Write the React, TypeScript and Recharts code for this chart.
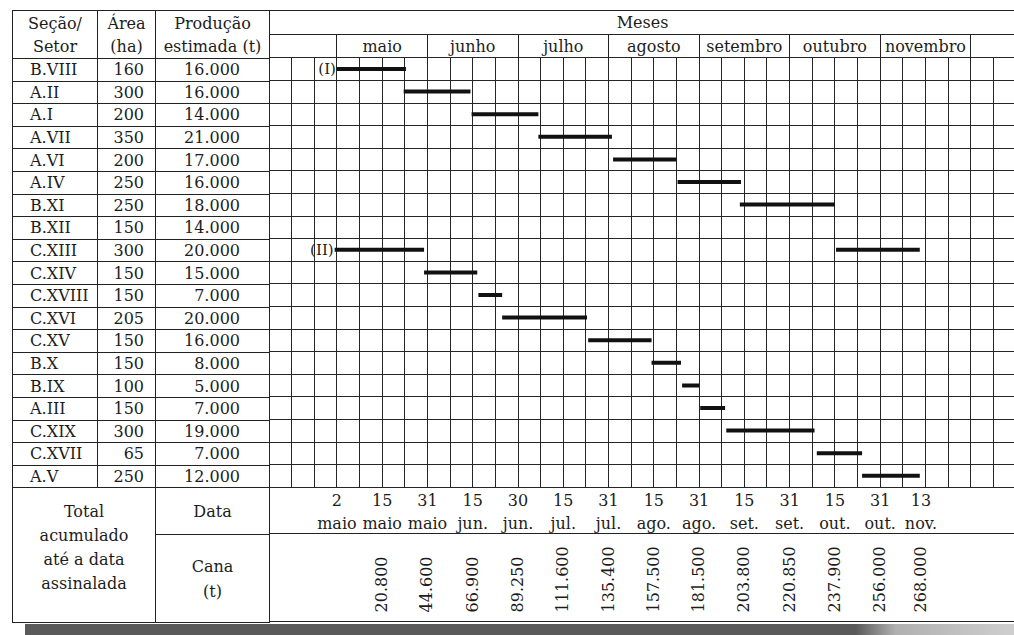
import { Bar, BarChart, CartesianGrid, LabelList, XAxis, YAxis } from "recharts";

// left table
const sectors = ["B.VIII", "A.II", "A.I", "A.VII", "A.VI", "A.IV", "B.XI", "B.XII", "C.XIII", "C.XIV", "C.XVIII", "C.XVI", "C.XV", "B.X", "B.IX", "A.III", "C.XIX", "C.XVII", "A.V"];
const areas = [160, 300, 200, 350, 200, 250, 250, 150, 300, 150, 150, 205, 150, 150, 100, 150, 300, 65, 250];
const production = [16000, 16000, 14000, 21000, 17000, 16000, 18000, 14000, 20000, 15000, 7000, 20000, 16000, 8000, 5000, 7000, 19000, 7000, 12000];

// harvest periods, x in quarter-month columns (0 = 3 columns before maio)
const segRow = [0, 1, 2, 3, 4, 5, 6, 8, 8, 9, 10, 11, 12, 13, 14, 15, 16, 17, 18];
const segStart = [3.0, 5.95, 8.95, 11.9, 15.2, 18.05, 20.8, 2.9, 25.05, 6.85, 9.25, 10.3, 14.1, 16.9, 18.25, 19.05, 20.2, 24.2, 26.2];
const segEnd = [6.05, 8.9, 11.9, 15.15, 18.0, 20.85, 25.0, 6.85, 28.75, 9.2, 10.3, 14.05, 16.9, 18.2, 19.0, 20.15, 24.1, 26.2, 28.75];
const segTag = ["(I)", null, null, null, null, null, null, "(II)", null, null, null, null, null, null, null, null, null, null, null];

// header months
const monthStarts = [3, 7, 11, 15, 19, 23, 27, 31];
const monthCenters = [5, 9, 13, 17, 21, 25, 29];
const monthNames = ["maio", "junho", "julho", "agosto", "setembro", "outubro", "novembro"];

// bottom rows
const dateCols = [3, 5, 7, 9, 11, 13, 15, 17, 19, 21, 23, 25, 27, 28.8];
const dateDays = ["2", "15", "31", "15", "30", "15", "31", "15", "31", "15", "31", "15", "31", "13"];
const dateMonths = ["maio", "maio", "maio", "jun.", "jun.", "jul.", "jul.", "ago.", "ago.", "set.", "set.", "out.", "out.", "nov."];
const canaTotals = [null, 20800, 44600, 66900, 89250, 111600, 135400, 157500, 181500, 203800, 220850, 237900, 256000, 268000];

const gridCols = Array.from({ length: 34 }, (_, i) => i);
const gridRows = Array.from({ length: 20 }, (_, i) => i);
const monthTicks = [...monthStarts, ...monthCenters].sort((a, b) => a - b);

const data = segRow.map((row, i) => ({
  row: row + 0.5,
  span: [segStart[i], segEnd[i]],
  tag: segTag[i],
}));

const ROW = 22.6;
const INK = "#1c1c1c";
const LINE = "1px solid #222";

function fmt(n: number) {
  return String(n).replace(/\B(?=(\d{3})+(?!\d))/g, ".");
}

function MonthTick({ x, y, payload }: any) {
  const m = monthCenters.indexOf(payload.value);
  if (m >= 0) {
    return (
      <text x={x} y={y - 6} textAnchor="middle" fontSize={16} fill={INK}>
        {monthNames[m]}
      </text>
    );
  }
  return <line x1={x} x2={x} y1={y} y2={y - 23} stroke="#222" shapeRendering="crispEdges" />;
}

function DateTick({ x, y, payload }: any) {
  const i = dateCols.indexOf(payload.value);
  if (i < 0) return null;
  const total = canaTotals[i];
  return (
    <g fill={INK} fontSize={16}>
      <text x={x} y={y + 19} textAnchor="middle">{dateDays[i]}</text>
      <text x={x} y={y + 42} textAnchor="middle">{dateMonths[i]}</text>
      {total != null ? (
        <text x={x + 5} y={y + 125} transform={`rotate(-90 ${x + 5} ${y + 125})`}>
          {fmt(total)}
        </text>
      ) : null}
    </g>
  );
}

const cell = {
  borderRight: LINE,
  borderBottom: LINE,
  boxSizing: "border-box" as const,
  display: "flex",
  alignItems: "center",
  fontSize: 16,
  color: INK,
};

export default function App() {
  return (
    <div
      style={{
        position: "absolute",
        left: 0,
        top: 0,
        width: 1014,
        height: 635,
        overflow: "hidden",
        background: "#fff",
        fontFamily: "'DejaVu Serif', serif",
      }}
    >
      <style>{".recharts-cartesian-grid line { shape-rendering: crispEdges; }"}</style>
      <div
        style={{
          position: "absolute",
          left: 12,
          top: 10,
          width: 257,
          display: "grid",
          gridTemplateColumns: "85px 58px 114px",
          gridTemplateRows: `48px repeat(19, ${ROW}px) 47px 88px`,
          borderTop: LINE,
          borderLeft: LINE,
          boxSizing: "border-box",
        }}
      >
        <div style={{ ...cell, justifyContent: "center", textAlign: "center", lineHeight: "23px" }}>Seção/<br />Setor</div>
        <div style={{ ...cell, justifyContent: "center", textAlign: "center", lineHeight: "23px" }}>Área<br />(ha)</div>
        <div style={{ ...cell, justifyContent: "center", textAlign: "center", lineHeight: "23px" }}>Produção<br />estimada (t)</div>
        {sectors.map((s, i) => [
          <div key={`s${i}`} style={{ ...cell, paddingLeft: 17 }}>{s}</div>,
          <div key={`a${i}`} style={{ ...cell, justifyContent: "flex-end", paddingRight: 11 }}>{areas[i]}</div>,
          <div key={`p${i}`} style={{ ...cell, justifyContent: "flex-end", paddingRight: 29 }}>{fmt(production[i])}</div>,
        ])}
        <div style={{ ...cell, gridColumn: "1 / 3", gridRow: "21 / 23", justifyContent: "center", textAlign: "center", lineHeight: "24px", paddingBottom: 14 }}>
          Total<br />acumulado<br />até a data<br />assinalada
        </div>
        <div style={{ ...cell, gridColumn: "3", gridRow: "21", justifyContent: "center" }}>Data</div>
        <div style={{ ...cell, gridColumn: "3", gridRow: "22", justifyContent: "center", textAlign: "center", lineHeight: "25px" }}>Cana<br />(t)</div>
      </div>

      <div style={{ position: "absolute", left: 269, top: 10 }}>
        <BarChart
          layout="vertical"
          width={747}
          height={48 + 19 * ROW + 135}
          data={data}
          margin={{ top: 0, right: 0, bottom: 0, left: 0 }}
        >
          <CartesianGrid
            xAxisId="dates"
            stroke="#262626"
            shapeRendering="crispEdges"
            verticalValues={gridCols}
            horizontalValues={gridRows}
          />
          <XAxis
            xAxisId="a_months"
            orientation="top"
            type="number"
            domain={[0, 33]}
            allowDataOverflow
            height={23}
            ticks={monthTicks}
            interval={0}
            tickSize={0}
            tickMargin={0}
            tickLine={false}
            axisLine={false}
            tick={<MonthTick />}
          />
          <XAxis
            xAxisId="b_meses"
            orientation="top"
            type="number"
            domain={[0, 33]}
            allowDataOverflow
            height={25}
            tick={false}
            tickLine={false}
            axisLine={{ stroke: "#222", shapeRendering: "crispEdges" }}
            label={{ value: "Meses", position: "center", fill: INK, fontSize: 16 }}
          />
          <XAxis
            xAxisId="dates"
            orientation="bottom"
            type="number"
            domain={[0, 33]}
            allowDataOverflow
            height={135}
            ticks={dateCols}
            interval={0}
            tickSize={0}
            tickMargin={0}
            tickLine={false}
            axisLine={false}
            tick={<DateTick />}
          />
          <YAxis
            type="number"
            dataKey="row"
            domain={[0, 19]}
            hide
            allowDataOverflow
            ticks={gridRows}
            interval={0}
          />
          <Bar xAxisId="dates" dataKey="span" barSize={4} fill="#111" isAnimationActive={false}>
            <LabelList dataKey="tag" position="left" offset={1} fill={INK} fontSize={15} />
          </Bar>
        </BarChart>
      </div>

      <div style={{ position: "absolute", left: 269, top: 10, width: 745, borderTop: LINE }} />
      <div style={{ position: "absolute", left: 269, top: 10 + 48 + 19 * ROW + 46, width: 745, borderTop: LINE }} />
      <div style={{ position: "absolute", left: 269, top: 10 + 48 + 19 * ROW + 134, width: 745, borderTop: LINE }} />
      <div
        style={{
          position: "absolute",
          left: 25,
          top: 624,
          width: 989,
          height: 11,
          background: "linear-gradient(to right, #5a5a5a 0%, #5a5a5a 84%, #b0b0b0 88%, #cfcfcf 100%)",
        }}
      />
    </div>
  );
}
